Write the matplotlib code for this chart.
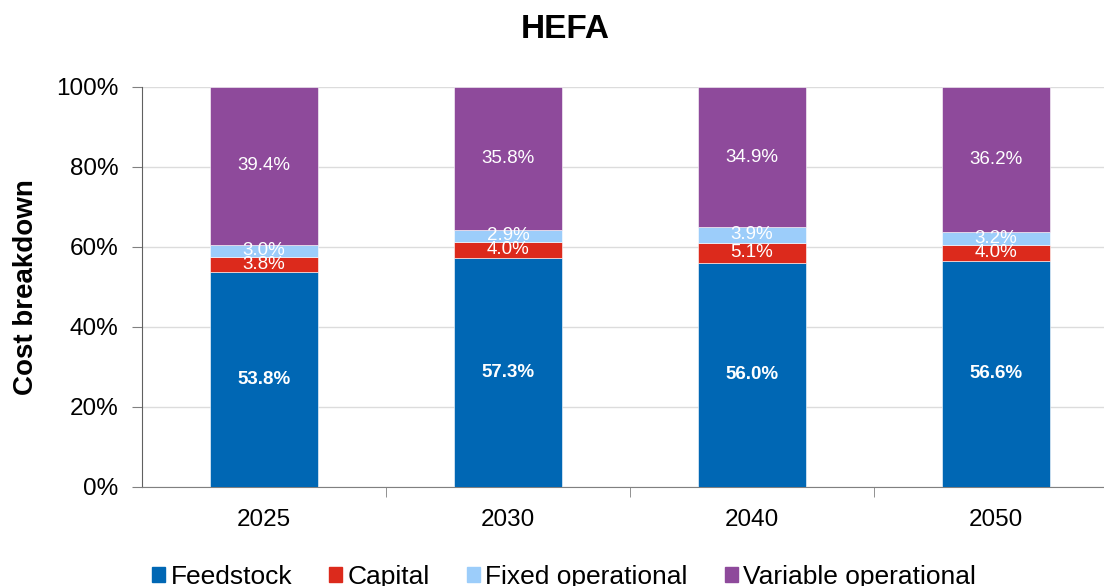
import matplotlib.pyplot as plt
import numpy as np
from matplotlib.patches import Patch

plt.rcParams["font.family"] = ["Liberation Sans", "DejaVu Sans"]

# Cost shares (%) per year
years = ["2025", "2030", "2040", "2050"]
feedstock = [53.8, 57.3, 56.0, 56.6]
capital = [3.8, 4.0, 5.1, 4.0]
fixed_op = [3.0, 2.9, 3.9, 3.2]
variable_op = [39.4, 35.8, 34.9, 36.2]

series = [
    ("Feedstock", feedstock, "#0067B4"),
    ("Capital", capital, "#DC2A1C"),
    ("Fixed operational", fixed_op, "#9CCDFA"),
    ("Variable operational", variable_op, "#8E4A9B"),
]

fig = plt.figure(figsize=(11.04, 5.86), dpi=100)
ax = fig.add_axes([0.1286, 0.169, 0.884, 0.6826])

x = np.arange(len(years))
bottom = np.zeros(len(years))
for i, (name, vals, color) in enumerate(series):
    vals = np.array(vals)
    ax.bar(x, vals, 0.44, bottom=bottom, color=color, edgecolor="white",
           linewidth=0.4, zorder=3)
    for xi, b, v in zip(x, bottom, vals):
        ax.text(xi, b + v / 2, f"{v:.1f}%", ha="center", va="center",
                color="white", fontsize=13.5,
                fontweight="bold" if i == 0 else "normal", zorder=4)
    bottom += vals

ax.set_xlim(-0.5, 3.5)
ax.set_ylim(0, 100)
ax.set_yticks(np.arange(0, 101, 20))
ax.set_yticklabels([f"{v}%" for v in range(0, 101, 20)], fontsize=17.5)
ax.set_xticks(x)
ax.set_xticklabels(years, fontsize=17.5)
ax.set_xticks([0.5, 1.5, 2.5], minor=True)
ax.tick_params(axis="x", which="major", length=0, pad=16)
ax.tick_params(axis="x", which="minor", length=7, color="#808080")
ax.tick_params(axis="y", length=7, color="#808080", pad=10)
ax.grid(axis="y", color="#DCDCDC", linewidth=1, zorder=0)

for s in ["top", "right"]:
    ax.spines[s].set_visible(False)
ax.spines["left"].set_color("#606060")
ax.spines["bottom"].set_color("#808080")

ax.set_ylabel("Cost breakdown", fontsize=20, fontweight="bold", labelpad=12)
fig.text(0.512, 0.949, "HEFA", ha="center", va="center", fontsize=24,
         fontweight="bold")

handles = [Patch(color=c, label=n) for n, _, c in series]
fig.legend(handles=handles, loc="center", bbox_to_anchor=(0.511, 0.016),
           ncol=4, frameon=False, fontsize=19, handlelength=0.5,
           handleheight=0.5, handletextpad=0.2, columnspacing=1.4,
           borderpad=0)

fig.savefig("out.png", dpi=100)
